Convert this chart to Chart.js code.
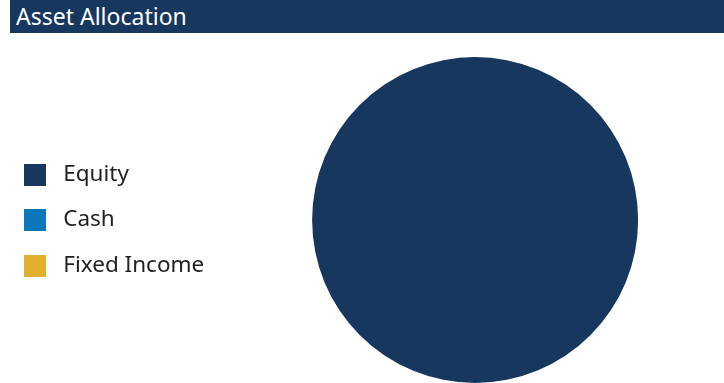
<!DOCTYPE html>
<html>
<head>
<meta charset="utf-8">
<script src="https://cdn.jsdelivr.net/npm/chart.js@4/dist/chart.umd.min.js"></script>
<style>
   html, body { margin: 0; padding: 0; background: #ffffff; }
   body { width: 724px; height: 383px; position: relative; overflow: hidden; font-family: 'Noto Sans', sans-serif; }
   #titleBar {
      position: absolute; left: 10px; top: 0; width: 714px; height: 33px;
      background: #17375F; color: #ffffff; font-size: 23px; line-height: 33px;
      padding-left: 6px; box-sizing: border-box;
   }
   /* a bit wider than the page so the pie sits where it does in the original */
   #chartBox { position: absolute; left: 0; top: 33px; width: 736px; height: 350px; }
</style>
</head>
<body>
<div id="titleBar">Asset Allocation</div>
<div id="chartBox"><canvas id="allocationCanvas"></canvas></div>
<script>
   const CATEGORIES = ['Equity', 'Cash', 'Fixed Income'];
   const WEIGHTS    = [100, 0, 0];
   const COLORS     = ['#17375F', '#0C77BA', '#DEB02B'];

   // legend marker: 22px square at the left of a 28px wide image, so the text sits further off
   var makeMarker = function makeMarker(color) {
      var marker = document.createElement('canvas');
      marker.width  = 28;
      marker.height = 22;
      var ctx = marker.getContext('2d');
      ctx.fillStyle = color;
      ctx.fillRect(0, 0, 22, 22);
      return marker;
   };

   var defaultLabels = Chart.controllers.pie.overrides.plugins.legend.labels.generateLabels;

   var chartConfig = {
      type: 'pie',
      data: {
         labels: CATEGORIES,
         datasets: [{
            data: WEIGHTS,
            backgroundColor: COLORS,
            borderWidth: 0
         }]
      },
      options: {
         responsive: true,
         maintainAspectRatio: false,
         animation: false,
         layout: {
            padding: { top: 24, bottom: 0, left: 1, right: 0 }
         },
         plugins: {
            tooltip: { enabled: false },
            legend: {
               position: 'left',
               align: 'center',
               labels: {
                  usePointStyle: true,
                  pointStyleWidth: 28,
                  boxWidth: 22,
                  boxHeight: 22,
                  padding: 23,
                  color: '#222222',
                  font: { family: 'Noto Sans', size: 22.5 },
                  generateLabels: function (chart) {
                     return defaultLabels(chart).map(item => {
                        item.pointStyle = makeMarker(COLORS[item.index]);
                        item.hidden = false;
                        return item;
                     });
                  }
               }
            }
         }
      }
   };

   new Chart(document.getElementById('allocationCanvas'), chartConfig);
</script>
</body>
</html>
